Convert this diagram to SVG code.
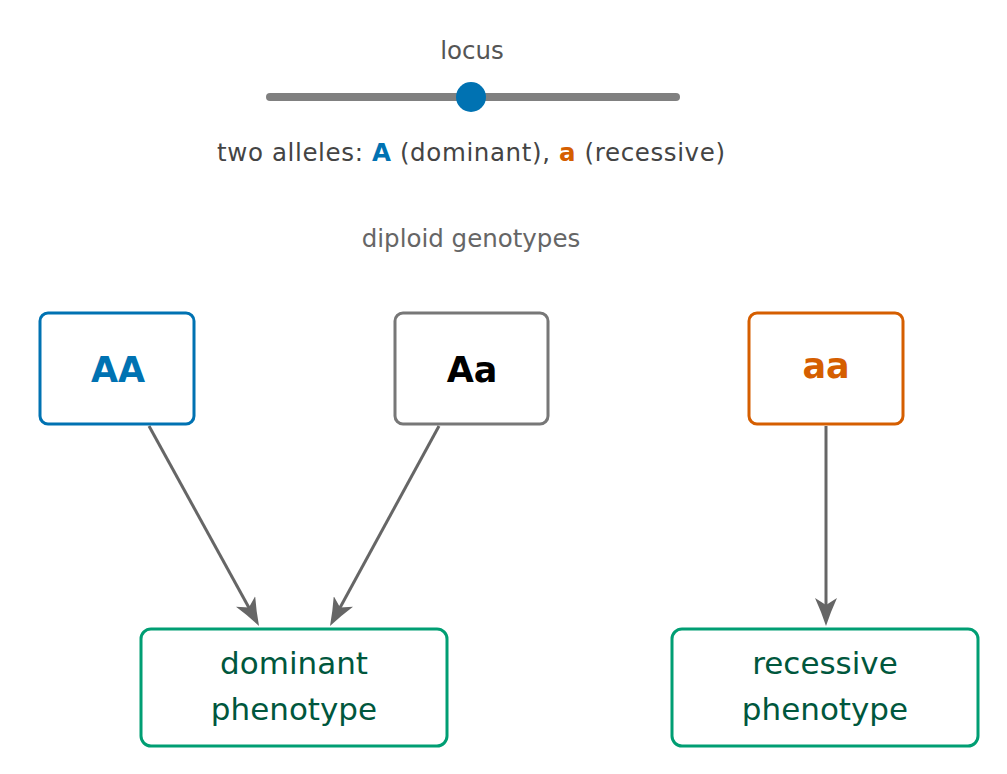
<svg xmlns="http://www.w3.org/2000/svg" width="1007" height="774" viewBox="0 0 1007 774">
<defs>
<style>
text{font-family:"DejaVu Sans","Open Sans",sans-serif;text-anchor:middle}
.lbl{fill:#555;font-size:24.5px}
.geno{stroke-width:3;fill:#fff}
.gt{font-size:35px;font-weight:bold}
.pheno{stroke:#009E73;stroke-width:3;fill:#fff}
.pt{fill:#00573D;font-size:31px}
.edge{stroke:#666;stroke-width:3;fill:none;marker-end:url(#ah)}
</style>
<marker id="ah" viewBox="0 0 28 22" refX="18" refY="11" markerWidth="28" markerHeight="22" markerUnits="userSpaceOnUse" orient="auto">
<path d="M0,0 Q13,6 28,11 Q13,16 0,22 L7,11 Z" fill="#666"/>
</marker>
</defs>
<g id="locus">
<text class="lbl" x="472" y="59">locus</text>
<line x1="270" y1="97" x2="676" y2="97" stroke="#808080" stroke-width="8" stroke-linecap="round"/>
<circle cx="471" cy="97" r="15" fill="#0072B2"/>
<text x="471" y="161" fill="#444" font-size="24.5" textLength="508" lengthAdjust="spacing">two alleles:  <tspan fill="#0072B2" font-weight="bold">A</tspan> (dominant), <tspan fill="#D55E00" font-weight="bold">a</tspan> (recessive)</text>
<text class="lbl" x="471" y="247" style="fill:#666">diploid genotypes</text>
</g>
<g id="edges">
<line class="edge" x1="149" y1="426" x2="254.2" y2="617.2"/>
<line class="edge" x1="439" y1="426" x2="334.8" y2="617.2"/>
<line class="edge" x1="826" y1="426" x2="826" y2="616"/>
</g>
<g id="AA">
<rect class="geno" x="40" y="313" width="154" height="111" rx="8" stroke="#0072B2"/>
<text class="gt" x="118" y="382" fill="#0072B2">AA</text>
</g>
<g id="Aa">
<rect class="geno" x="395" y="313" width="153" height="111" rx="8" stroke="#777"/>
<text class="gt" x="472" y="382" fill="#000">Aa</text>
</g>
<g id="aa">
<rect class="geno" x="749" y="313" width="154" height="111" rx="8" stroke="#D55E00"/>
<text class="gt" x="826" y="378" fill="#D55E00">aa</text>
</g>
<g id="dominant">
<rect class="pheno" x="141" y="629" width="306" height="117" rx="10"/>
<text class="pt" x="294" y="674">dominant</text>
<text class="pt" x="294" y="720">phenotype</text>
</g>
<g id="recessive">
<rect class="pheno" x="672" y="629" width="306" height="117" rx="10"/>
<text class="pt" x="825" y="674">recessive</text>
<text class="pt" x="825" y="720">phenotype</text>
</g>
</svg>
